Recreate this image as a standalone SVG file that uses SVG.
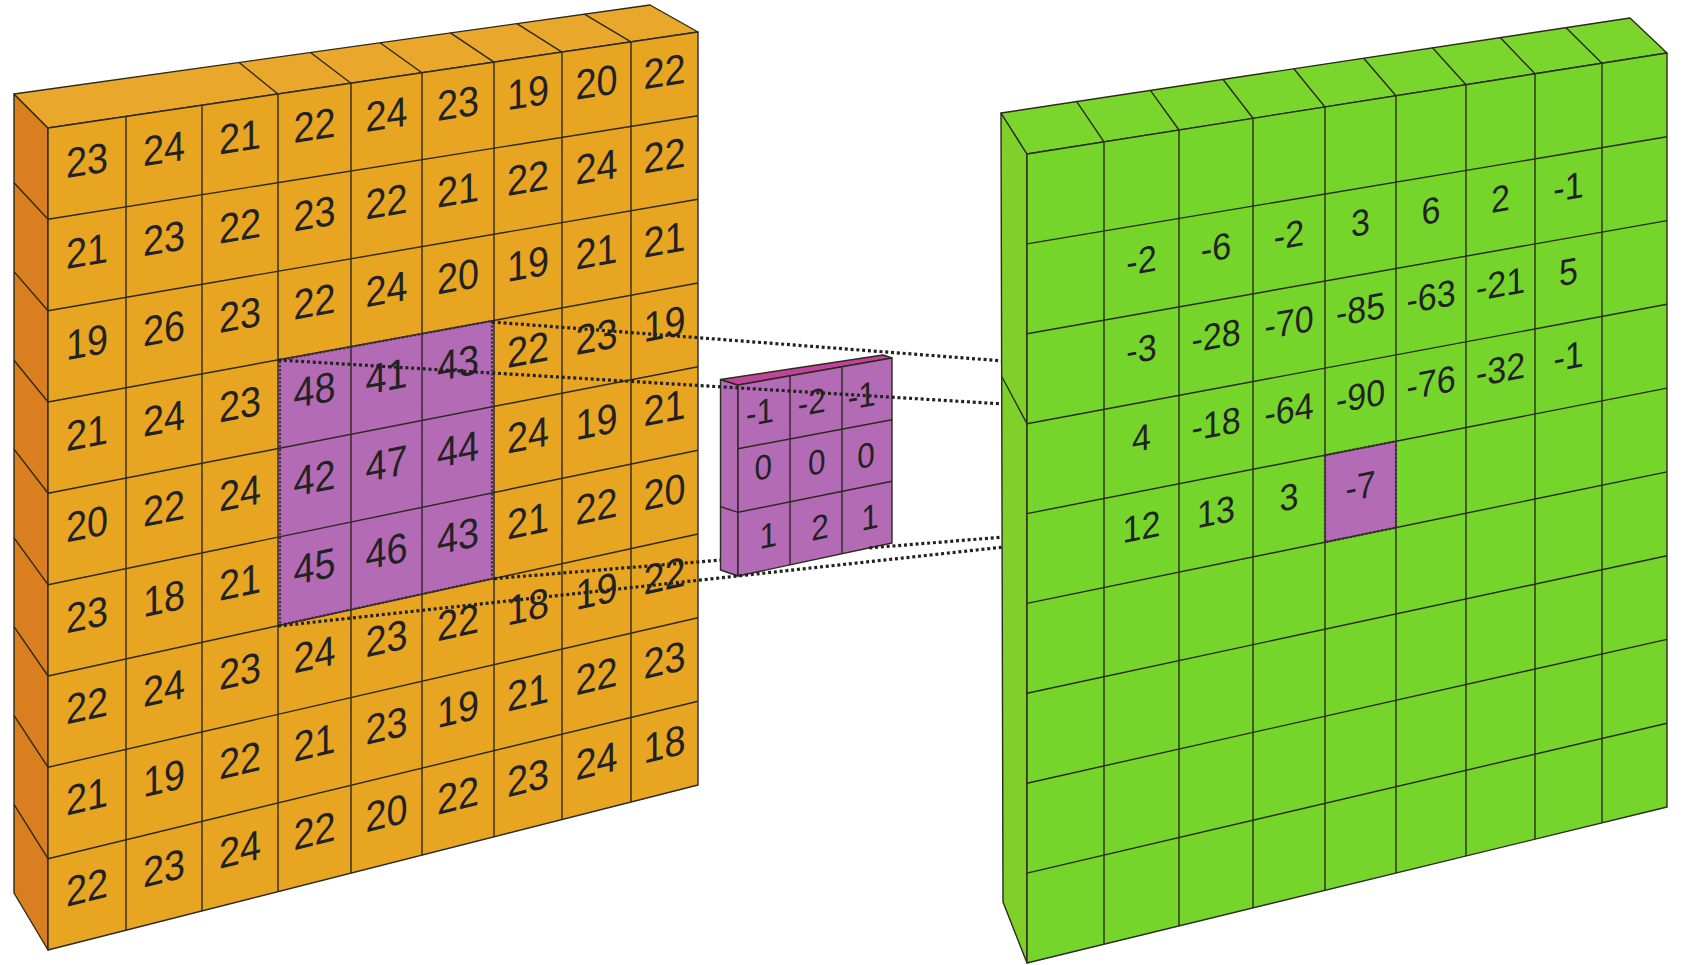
<svg xmlns="http://www.w3.org/2000/svg" width="1685" height="965" viewBox="0 0 1685 965">
<style>
.e{stroke:#2b2a1c;stroke-width:1.4;stroke-linejoin:round}
.ln{stroke:#2b2a1c;stroke-width:1.4;fill:none}
.of{fill:#E7A522}.ot{fill:#E9A82B}.ol{fill:#D97F1F}
.gf{fill:#75D52A}.gt{fill:#7AD62D}.gl{fill:#7FD02B}
.pf{fill:#B36BB5}.pt{fill:#C2439D}
.hl{fill:none;stroke:#3a2a3a;stroke-width:2.2;stroke-dasharray:2 2}
.dot{fill:none;stroke:#222;stroke-width:3.2;stroke-dasharray:3 2.8}
text{font-family:"Liberation Sans",Arial,sans-serif;fill:#222;text-anchor:middle}
.o text{font-size:42px}
.g text{font-size:37px}
.k text{font-size:35px}
</style>
<rect width="1685" height="965" fill="#fff"/>

<g id="input-image" class="o">
<polygon class="ol e" points="14,94 48,128 48,950 14,893"/>
<polygon class="ot e" points="14,94 650,5 698,32 48,128"/>
<polygon class="of e" points="48,128 698,32 698,785 48,950"/>
<polygon class="pf" points="278,359.9 494,320.3 494,578.6 278,625.7"/>
<path class="ln" d="M126 116.5V930.2M202 105.3V910.9M278 94V891.6M351 83.3V873.1M422 72.8V855.1M494 62.1V836.8M562 52.1V819.5M631 41.9V802M48 219.3L698 115.7M48 310.7L698 199.3M48 402L698 283M48 493.3L698 366.7M48 584.7L698 450.3M48 676L698 534M48 767.3L698 617.7M48 858.7L698 701.3M278 94L239.1 62.5M351 83.3L310.5 52.5M422 72.8L380 42.8M494 62.1L450.4 32.9M562 52.1L516.9 23.6M631 41.9L584.4 14.2M48 219.3L14 182.8M48 310.7L14 271.6M48 402L14 360.3M48 493.3L14 449.1M48 584.7L14 537.9M48 676L14 626.7M48 767.3L14 715.4M48 858.7L14 804.3"/>
<polygon class="hl" points="280,360 492,321 492,578.6 280,625"/>
<g>
<text transform="matrix(.9 -.1382 0 1 87 159.7)" y="15">23</text>
<text transform="matrix(.9 -.1382 0 1 164 147.9)" y="15">24</text>
<text transform="matrix(.9 -.1382 0 1 240 136.2)" y="15">21</text>
<text transform="matrix(.9 -.1382 0 1 314.5 124.7)" y="15">22</text>
<text transform="matrix(.9 -.1382 0 1 386.5 113.7)" y="15">24</text>
<text transform="matrix(.9 -.1382 0 1 458 102.7)" y="15">23</text>
<text transform="matrix(.9 -.1382 0 1 528 92)" y="15">19</text>
<text transform="matrix(.9 -.1382 0 1 596.5 81.4)" y="15">20</text>
<text transform="matrix(.9 -.1382 0 1 664.5 71)" y="15">22</text>

<text transform="matrix(.9 -.1488 0 1 87 250.6)" y="15">21</text>
<text transform="matrix(.9 -.1488 0 1 164 237.8)" y="15">23</text>
<text transform="matrix(.9 -.1488 0 1 240 225.2)" y="15">22</text>
<text transform="matrix(.9 -.1488 0 1 314.5 212.9)" y="15">23</text>
<text transform="matrix(.9 -.1488 0 1 386.5 201)" y="15">22</text>
<text transform="matrix(.9 -.1488 0 1 458 189.2)" y="15">21</text>
<text transform="matrix(.9 -.1488 0 1 528 177.6)" y="15">22</text>
<text transform="matrix(.9 -.1488 0 1 596.5 166.3)" y="15">24</text>
<text transform="matrix(.9 -.1488 0 1 664.5 155)" y="15">22</text>

<text transform="matrix(.9 -.1595 0 1 87 341.4)" y="15">19</text>
<text transform="matrix(.9 -.1595 0 1 164 327.8)" y="15">26</text>
<text transform="matrix(.9 -.1595 0 1 240 314.3)" y="15">23</text>
<text transform="matrix(.9 -.1595 0 1 314.5 301.1)" y="15">22</text>
<text transform="matrix(.9 -.1595 0 1 386.5 288.4)" y="15">24</text>
<text transform="matrix(.9 -.1595 0 1 458 275.7)" y="15">20</text>
<text transform="matrix(.9 -.1595 0 1 528 263.3)" y="15">19</text>
<text transform="matrix(.9 -.1595 0 1 596.5 251.1)" y="15">21</text>
<text transform="matrix(.9 -.1595 0 1 664.5 239.1)" y="15">21</text>

<text transform="matrix(.9 -.1701 0 1 87 432.3)" y="15">21</text>
<text transform="matrix(.9 -.1701 0 1 164 417.7)" y="15">24</text>
<text transform="matrix(.9 -.1701 0 1 240 403.4)" y="15">23</text>
<text transform="matrix(.9 -.1701 0 1 314.5 389.3)" y="15">48</text>
<text transform="matrix(.9 -.1701 0 1 386.5 375.7)" y="15">41</text>
<text transform="matrix(.9 -.1701 0 1 458 362.2)" y="15">43</text>
<text transform="matrix(.9 -.1701 0 1 528 349)" y="15">22</text>
<text transform="matrix(.9 -.1701 0 1 596.5 336)" y="15">23</text>
<text transform="matrix(.9 -.1701 0 1 664.5 323.2)" y="15">19</text>

<text transform="matrix(.9 -.1807 0 1 87 523.2)" y="15">20</text>
<text transform="matrix(.9 -.1807 0 1 164 507.7)" y="15">22</text>
<text transform="matrix(.9 -.1807 0 1 240 492.5)" y="15">24</text>
<text transform="matrix(.9 -.1807 0 1 314.5 477.5)" y="15">42</text>
<text transform="matrix(.9 -.1807 0 1 386.5 463)" y="15">47</text>
<text transform="matrix(.9 -.1807 0 1 458 448.7)" y="15">44</text>
<text transform="matrix(.9 -.1807 0 1 528 434.6)" y="15">24</text>
<text transform="matrix(.9 -.1807 0 1 596.5 420.9)" y="15">19</text>
<text transform="matrix(.9 -.1807 0 1 664.5 407.2)" y="15">21</text>

<text transform="matrix(.9 -.1913 0 1 87 614)" y="15">23</text>
<text transform="matrix(.9 -.1913 0 1 164 597.7)" y="15">18</text>
<text transform="matrix(.9 -.1913 0 1 240 581.5)" y="15">21</text>
<text transform="matrix(.9 -.1913 0 1 314.5 565.7)" y="15">45</text>
<text transform="matrix(.9 -.1913 0 1 386.5 550.4)" y="15">46</text>
<text transform="matrix(.9 -.1913 0 1 458 535.2)" y="15">43</text>
<text transform="matrix(.9 -.1913 0 1 528 520.3)" y="15">21</text>
<text transform="matrix(.9 -.1913 0 1 596.5 505.7)" y="15">22</text>
<text transform="matrix(.9 -.1913 0 1 664.5 491.3)" y="15">20</text>

<text transform="matrix(.9 -.2019 0 1 87 704.9)" y="15">22</text>
<text transform="matrix(.9 -.2019 0 1 164 687.6)" y="15">24</text>
<text transform="matrix(.9 -.2019 0 1 240 670.6)" y="15">23</text>
<text transform="matrix(.9 -.2019 0 1 314.5 653.9)" y="15">24</text>
<text transform="matrix(.9 -.2019 0 1 386.5 637.7)" y="15">23</text>
<text transform="matrix(.9 -.2019 0 1 458 621.7)" y="15">22</text>
<text transform="matrix(.9 -.2019 0 1 528 606)" y="15">18</text>
<text transform="matrix(.9 -.2019 0 1 596.5 590.6)" y="15">19</text>
<text transform="matrix(.9 -.2019 0 1 664.5 575.3)" y="15">22</text>

<text transform="matrix(.9 -.2125 0 1 87 795.8)" y="15">21</text>
<text transform="matrix(.9 -.2125 0 1 164 777.6)" y="15">19</text>
<text transform="matrix(.9 -.2125 0 1 240 759.7)" y="15">22</text>
<text transform="matrix(.9 -.2125 0 1 314.5 742.1)" y="15">21</text>
<text transform="matrix(.9 -.2125 0 1 386.5 725.1)" y="15">23</text>
<text transform="matrix(.9 -.2125 0 1 458 708.2)" y="15">19</text>
<text transform="matrix(.9 -.2125 0 1 528 691.7)" y="15">21</text>
<text transform="matrix(.9 -.2125 0 1 596.5 675.5)" y="15">22</text>
<text transform="matrix(.9 -.2125 0 1 664.5 659.4)" y="15">23</text>

<text transform="matrix(.9 -.2232 0 1 87 886.7)" y="15">22</text>
<text transform="matrix(.9 -.2232 0 1 164 867.6)" y="15">23</text>
<text transform="matrix(.9 -.2232 0 1 240 848.7)" y="15">24</text>
<text transform="matrix(.9 -.2232 0 1 314.5 830.3)" y="15">22</text>
<text transform="matrix(.9 -.2232 0 1 386.5 812.4)" y="15">20</text>
<text transform="matrix(.9 -.2232 0 1 458 794.7)" y="15">22</text>
<text transform="matrix(.9 -.2232 0 1 528 777.3)" y="15">23</text>
<text transform="matrix(.9 -.2232 0 1 596.5 760.3)" y="15">24</text>
<text transform="matrix(.9 -.2232 0 1 664.5 743.5)" y="15">18</text>
</g>
</g>

<g id="kernel" class="k">
<polygon class="pf e" points="720.5,379.5 738,385 738,576 720.5,570"/>
<polygon class="pt e" points="720.5,379.5 883,355 892,358 738,385"/>
<polygon class="pf e" points="738,385 892,358 892,543 738,576"/>
<path class="ln" d="M790 375.9V564.9M842 366.8V553.7M738 448.7L892 419.7M738 512.3L892 481.3M738 512.3L720.5 506.7"/>
<text transform="matrix(.9 -.1673 0 1 760 411.7)" y="12.5">-1</text>
<text transform="matrix(.9 -.1673 0 1 811.7 401.7)" y="12.5">-2</text>
<text transform="matrix(.9 -.1673 0 1 861.7 395)" y="12.5">-1</text>
<text transform="matrix(.9 -.1792 0 1 763.3 466.7)" y="12.5">0</text>
<text transform="matrix(.9 -.1792 0 1 816.7 461.7)" y="12.5">0</text>
<text transform="matrix(.9 -.1792 0 1 866 455)" y="12.5">0</text>
<text transform="matrix(.9 -.1912 0 1 768.3 535)" y="12.5">1</text>
<text transform="matrix(.9 -.1912 0 1 820 526.7)" y="12.5">2</text>
<text transform="matrix(.9 -.1912 0 1 870 516.7)" y="12.5">1</text>
</g>

<g id="connectors">
<path class="dot" d="M492 322L1004 361"/>
<path class="dot" d="M278 360L1004 404"/>
<path class="dot" d="M494 578.6L720.5 560.1M869.3 547.9L1004 537"/>
<path class="dot" d="M278 626L1004 547"/>
</g>

<g id="output-image" class="g">
<polygon class="gl e" points="1001,113 1027,154 1027,963 1003,902"/>
<polygon class="gt e" points="1001,113 1630,18 1667,53 1027,154"/>
<polygon class="gf e" points="1027,154 1667,53 1667,807 1027,963"/>
<polygon class="pf" points="1325,455.2 1396,441.2 1396,527.6 1325,542.2"/>
<path class="ln" d="M1104 141.9V944.2M1179 130V926M1253 118.3V907.9M1325 107V890.4M1396 95.8V873.1M1466 84.7V856M1535 73.8V839.2M1602 63.3V822.8M1027 243.9L1667 136.8M1027 333.8L1667 220.6M1027 423.7L1667 304.3M1027 513.6L1667 388.1M1027 603.4L1667 471.9M1027 693.3L1667 555.7M1027 783.2L1667 639.4M1027 873.1L1667 723.2M1104 141.9L1076.7 101.6M1179 130L1150.4 90.4M1253 118.3L1223.1 79.5M1325 107L1293.9 68.8M1396 95.8L1363.7 58.2M1466 84.7L1432.5 47.8M1535 73.8L1500.3 37.6M1602 63.3L1566.1 27.7M1027 423.7L1002 377"/>
<polygon class="hl" points="1325,455.2 1396,441.2 1396,527.6 1325,542.2"/>
<text transform="matrix(.92 -.1584 0 1 1141.5 260.1)" y="13">-2</text>
<text transform="matrix(.92 -.1584 0 1 1216 247.3)" y="13">-6</text>
<text transform="matrix(.92 -.1584 0 1 1289 234.7)" y="13">-2</text>
<text transform="matrix(.92 -.1584 0 1 1360.5 222.4)" y="13">3</text>
<text transform="matrix(.92 -.1584 0 1 1431 210.3)" y="13">6</text>
<text transform="matrix(.92 -.1584 0 1 1500.5 198.3)" y="13">2</text>
<text transform="matrix(.92 -.1584 0 1 1568.5 186.6)" y="13">-1</text>
<text transform="matrix(.92 -.1671 0 1 1141.5 348.9)" y="13">-3</text>
<text transform="matrix(.92 -.1671 0 1 1216 335.4)" y="13">-28</text>
<text transform="matrix(.92 -.1671 0 1 1289 322.1)" y="13">-70</text>
<text transform="matrix(.92 -.1671 0 1 1360.5 309.1)" y="13">-85</text>
<text transform="matrix(.92 -.1671 0 1 1431 296.3)" y="13">-63</text>
<text transform="matrix(.92 -.1671 0 1 1500.5 283.7)" y="13">-21</text>
<text transform="matrix(.92 -.1671 0 1 1568.5 271.4)" y="13">5</text>
<text transform="matrix(.92 -.1759 0 1 1141.5 437.7)" y="13">4</text>
<text transform="matrix(.92 -.1759 0 1 1216 423.5)" y="13">-18</text>
<text transform="matrix(.92 -.1759 0 1 1289 409.5)" y="13">-64</text>
<text transform="matrix(.92 -.1759 0 1 1360.5 395.8)" y="13">-90</text>
<text transform="matrix(.92 -.1759 0 1 1431 382.4)" y="13">-76</text>
<text transform="matrix(.92 -.1759 0 1 1500.5 369.1)" y="13">-32</text>
<text transform="matrix(.92 -.1759 0 1 1568.5 356.1)" y="13">-1</text>
<text transform="matrix(.92 -.1847 0 1 1141.5 526.5)" y="13">12</text>
<text transform="matrix(.92 -.1847 0 1 1216 511.5)" y="13">13</text>
<text transform="matrix(.92 -.1847 0 1 1289 496.9)" y="13">3</text>
<text transform="matrix(.92 -.1847 0 1 1360.5 486)" y="13">-7</text>
</g>
</svg>
